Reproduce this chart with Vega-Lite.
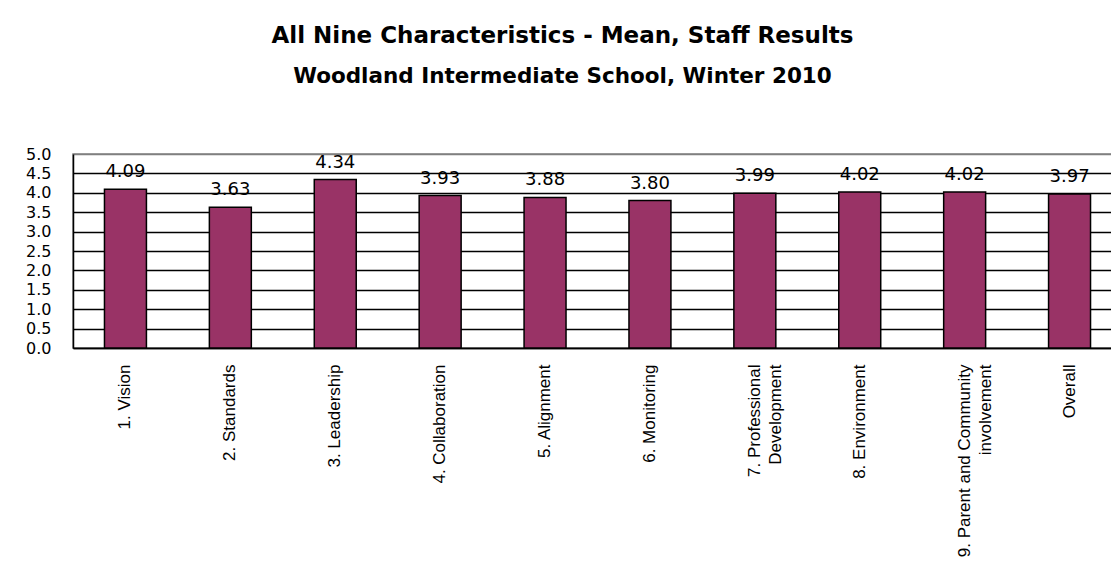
{
  "$schema": "https://vega.github.io/schema/vega-lite/v6.json",
  "autosize": {"type": "none"},
  "width": 1049,
  "height": 194,
  "padding": {"left": 73, "top": 154, "right": 0, "bottom": 236},
  "background": "white",
  "title": {
    "text": "All Nine Characteristics - Mean, Staff Results",
    "subtitle": "Woodland Intermediate School, Winter 2010",
    "anchor": "middle",
    "dx": -35,
    "font": "DejaVu Sans",
    "fontSize": 23,
    "fontWeight": "bold",
    "color": "black",
    "subtitleFont": "DejaVu Sans",
    "subtitleFontSize": 21.5,
    "subtitleFontWeight": "bold",
    "subtitleColor": "black",
    "subtitlePadding": 18,
    "offset": 59
  },
  "data": {
    "values": [
      {"characteristic": "1. Vision", "mean": 4.09},
      {"characteristic": "2. Standards", "mean": 3.63},
      {"characteristic": "3. Leadership", "mean": 4.34},
      {"characteristic": "4. Collaboration", "mean": 3.93},
      {"characteristic": "5. Alignment", "mean": 3.88},
      {"characteristic": "6. Monitoring", "mean": 3.80},
      {"characteristic": "7. Professional|Development", "mean": 3.99},
      {"characteristic": "8. Environment", "mean": 4.02},
      {"characteristic": "9. Parent and Community|involvement", "mean": 4.02},
      {"characteristic": "Overall", "mean": 3.97}
    ]
  },
  "encoding": {
    "x": {
      "field": "characteristic",
      "type": "nominal",
      "sort": null,
      "scale": {"paddingInner": 0.6, "paddingOuter": 0.3},
      "axis": {
        "title": null,
        "labelAngle": -90,
        "labelExpr": "split(datum.label, '|')",
        "labelFont": "Liberation Sans",
        "labelFontSize": 17,
        "labelColor": "black",
        "labelLineHeight": 21,
        "labelPadding": 16,
        "ticks": false,
        "domainColor": "black",
        "domainWidth": 1.5,
        "labelLimit": 0
      }
    },
    "y": {
      "field": "mean",
      "type": "quantitative",
      "scale": {"domain": [0, 5]},
      "axis": {
        "title": null,
        "values": [0, 0.5, 1, 1.5, 2, 2.5, 3, 3.5, 4, 4.5, 5],
        "format": ".1f",
        "labelFont": "DejaVu Sans",
        "labelFontSize": 16,
        "labelColor": "black",
        "labelPadding": 22,
        "ticks": false,
        "domainColor": "black",
        "domainWidth": 1.5,
        "grid": true,
        "gridColor": {"condition": {"test": "datum.value === 5", "value": "#808080"}, "value": "black"},
        "gridWidth": 1.5,
        "gridOpacity": 1
      }
    }
  },
  "layer": [
    {
      "mark": {"type": "bar", "color": "#993366", "stroke": "black", "strokeWidth": 1.5}
    },
    {
      "mark": {"type": "text", "font": "DejaVu Sans", "fontSize": 18, "baseline": "middle", "dy": -17, "color": "black"},
      "encoding": {
        "text": {"field": "mean", "type": "quantitative", "format": ".2f"}
      }
    }
  ],
  "config": {
    "view": {"stroke": "#808080", "strokeWidth": 1.5}
  }
}
